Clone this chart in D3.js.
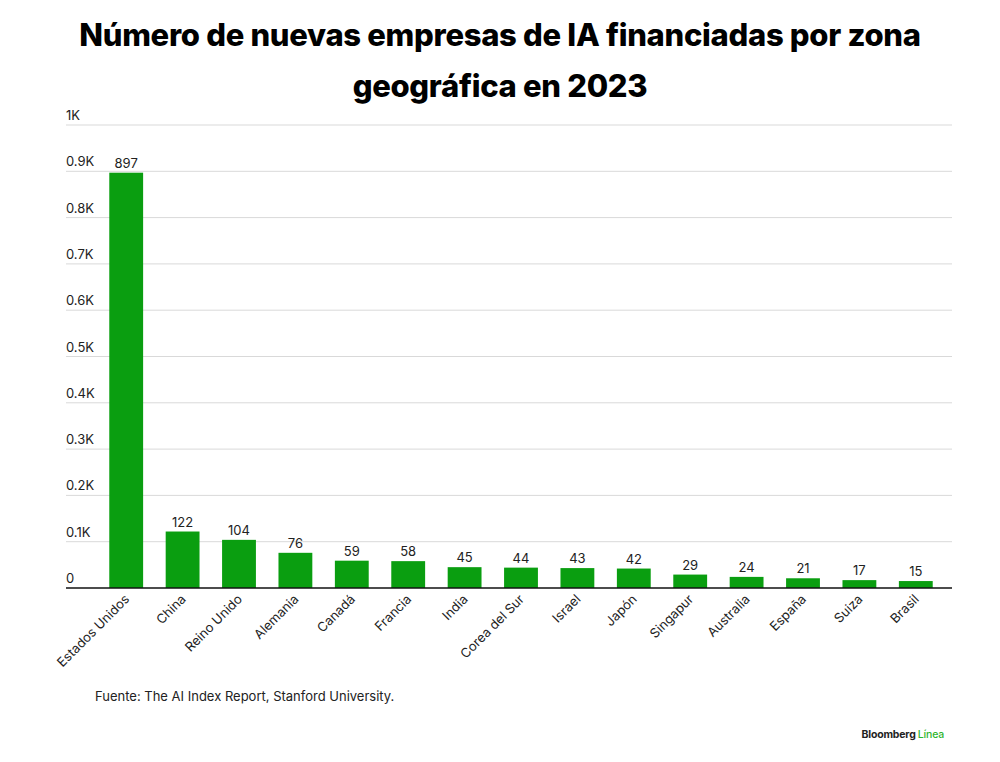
<!DOCTYPE html>
<html>
<head>
<meta charset="UTF-8">
<script src="https://cdn.jsdelivr.net/npm/d3@7"></script>
<style>
body { margin: 0; background: #fff; }
text { font-family: Inter, "Noto Sans", sans-serif; }
</style>
</head>
<body>
<svg id="chart" width="1000" height="762"></svg>
<script>
// data
var countries = ["Estados Unidos","China","Reino Unido","Alemania","Canadá","Francia","India","Corea del Sur","Israel","Japón","Singapur","Australia","España","Suiza","Brasil"];
var startups = [897,122,104,76,59,58,45,44,43,42,29,24,21,17,15];
var yTicks = [0,100,200,300,400,500,600,700,800,900,1000];
var yTickLabels = ["0","0.1K","0.2K","0.3K","0.4K","0.5K","0.6K","0.7K","0.8K","0.9K","1K"];

var svg = d3.select("#chart");
var x = d3.scaleBand().domain(countries).range([98, 944]).paddingInner(0.4).paddingOuter(0.2);
var y = d3.scaleLinear().domain([0, 1000]).range([588, 125]);

// title
svg.append("text").attr("x", 500).attr("y", 46).attr("text-anchor", "middle")
  .style("font-size", "31px").style("font-weight", 800).style("letter-spacing", "-0.3px")
  .text("Número de nuevas empresas de IA financiadas por zona");
svg.append("text").attr("x", 500).attr("y", 97).attr("text-anchor", "middle")
  .style("font-size", "31px").style("font-weight", 800).style("letter-spacing", "-0.3px")
  .text("geográfica en 2023");

// gridlines + labels
var g = svg.append("g");
g.selectAll("line.grid").data(yTicks.slice(1)).enter().append("line")
  .attr("x1", 66).attr("x2", 952).attr("y1", d => y(d)).attr("y2", d => y(d))
  .attr("stroke", "#d9d9d9").attr("stroke-width", 1);
g.selectAll("text.tick").data(yTicks).enter().append("text")
  .attr("x", 66).attr("y", d => y(d) - 5)
  .style("font-size", "13px").attr("fill", "#222")
  .text((d, i) => yTickLabels[i]);

// bars
svg.selectAll("rect.bar").data(startups).enter().append("rect")
  .attr("x", (d, i) => x(countries[i])).attr("width", x.bandwidth())
  .attr("y", d => y(d)).attr("height", d => y(0) - y(d))
  .attr("fill", "#0a9e10");
svg.selectAll("text.val").data(startups).enter().append("text")
  .attr("x", (d, i) => x(countries[i]) + x.bandwidth() / 2).attr("y", d => y(d) - 5)
  .attr("text-anchor", "middle").style("font-size", "13px").attr("fill", "#222")
  .text(d => d);

// baseline
svg.append("line").attr("x1", 66).attr("x2", 952).attr("y1", y(0)).attr("y2", y(0))
  .attr("stroke", "#111").attr("stroke-width", 1.5);

// x labels rotated
svg.selectAll("text.cat").data(countries).enter().append("text")
  .attr("transform", d => "translate(" + (x(d) + x.bandwidth() / 2 + 4) + "," + 600 + ") rotate(-45)")
  .attr("text-anchor", "end").style("font-size", "13px").attr("fill", "#222")
  .text(d => d);

// footer
svg.append("text").attr("x", 95).attr("y", 701).style("font-size", "13px").attr("fill", "#222")
  .text("Fuente: The AI Index Report, Stanford University.");
var logo = svg.append("text").attr("x", 944).attr("y", 738).attr("text-anchor", "end")
  .style("font-size", "10.5px").style("font-weight", 700).style("letter-spacing", "-0.2px");
logo.append("tspan").attr("fill", "#222").text("Bloomberg ");
logo.append("tspan").attr("fill", "#2fb52f").style("font-weight", 500).text("Línea");
</script>
</body>
</html>
